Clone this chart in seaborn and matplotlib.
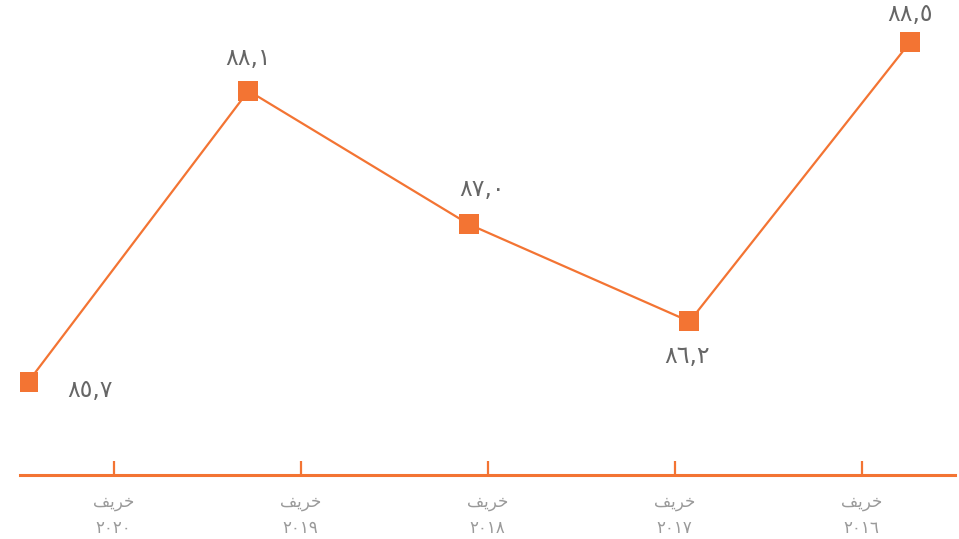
import matplotlib
matplotlib.use("Agg")
import matplotlib.pyplot as plt
import seaborn as sns
import pandas as pd

# display order is right-to-left: newest season on the left
seasons = ["خريف ٢٠٢٠", "خريف ٢٠١٩", "خريف ٢٠١٨", "خريف ٢٠١٧", "خريف ٢٠١٦"]
values = [85.7, 88.1, 87.0, 86.2, 88.5]
value_labels = ["٨٥,٧", "٨٨,١", "٨٧,٠", "٨٦,٢", "٨٨,٥"]

# matplotlib does no Arabic shaping, so use presentation forms in visual order
KHARIF_SHAPED = "\uFED2\uFEF3\uFEAE\uFEA7"

ORANGE = "#F37433"
sns.set_style("white")
plt.rcParams["font.family"] = ["DejaVu Sans"]

df = pd.DataFrame({"idx": range(len(values)), "value": values})

W, H = 959, 539
fig = plt.figure(figsize=(W / 100, H / 100), dpi=100)
rect = [20 / W, (H - 475) / H, 935 / W, 475 / H]
ax = fig.add_axes(rect)

sns.lineplot(data=df, x="idx", y="value", ax=ax, color=ORANGE, linewidth=1.6,
             marker="s", markersize=14.5, markeredgewidth=0, markerfacecolor=ORANGE)

ax.set_xlim(-0.036, 4.204)
ax.set_ylim(84.935, 88.848)
ax.set_xticks([])
ax.set_yticks([])
ax.set_xlabel("")
ax.set_ylabel("")
for s in ax.spines.values():
    s.set_visible(False)

# label offsets in pixels (dx, dy)
offsets = [(62, -8), (0, 33), (13, 35), (-2, -35), (0, 28)]
for i, (v, lab) in enumerate(zip(values, value_labels)):
    ax.annotate(lab, (i, v), xytext=offsets[i], textcoords="offset pixels",
                ha="center", va="center", fontsize=17, color="#666666")

# band axis for the season ticks
ax2 = fig.add_axes(rect, frameon=True)
ax2.patch.set_alpha(0)
ax2.set_xlim(-0.5, len(seasons) - 0.5)
ax2.set_ylim(0, 1)
ax2.set_yticks([])
for name in ["top", "left", "right"]:
    ax2.spines[name].set_visible(False)
ax2.spines["bottom"].set_color(ORANGE)
ax2.spines["bottom"].set_linewidth(2.2)
ax2.set_xticks(range(len(seasons)))
ax2.set_xticklabels([KHARIF_SHAPED + "\n" + s.split(" ")[1] for s in seasons],
                    fontsize=12, color="#9a9a9a", linespacing=1.6)
ax2.tick_params(axis="x", bottom=True, direction="in", length=10, width=1.6,
                color=ORANGE, pad=13)

fig.savefig("out.png", dpi=100)
